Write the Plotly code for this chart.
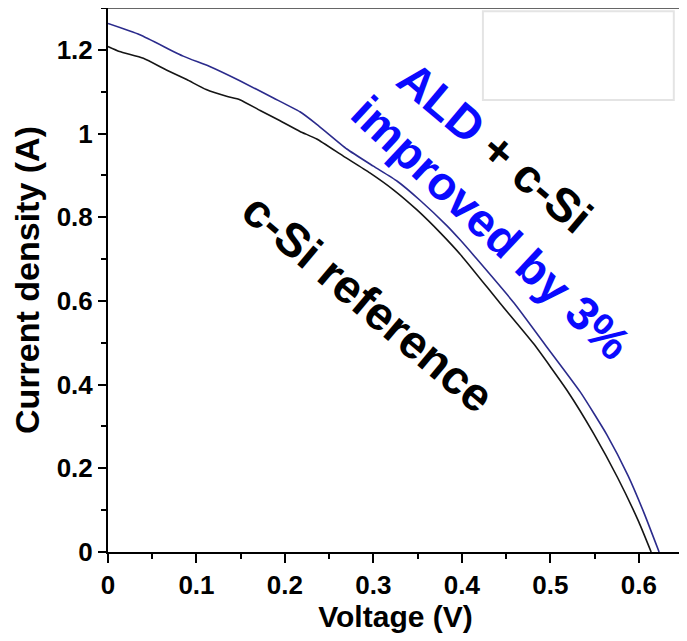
import plotly.graph_objects as go

# c-Si reference (black)
ref_v = [0, 0.013, 0.040, 0.066, 0.089, 0.111, 0.134, 0.149, 0.172, 0.194, 0.217, 0.236,
         0.266, 0.296, 0.323, 0.349, 0.376, 0.400, 0.443, 0.481, 0.519, 0.549, 0.576, 0.600, 0.614]
ref_j = [1.208, 1.196, 1.180, 1.152, 1.129, 1.105, 1.089, 1.081, 1.055, 1.031, 1.005, 0.987,
         0.946, 0.906, 0.865, 0.818, 0.762, 0.707, 0.595, 0.498, 0.386, 0.283, 0.178, 0.072, 0.0]

# ALD + c-Si (blue)
ald_v = [0, 0.036, 0.085, 0.115, 0.149, 0.187, 0.217, 0.236, 0.270, 0.300, 0.327, 0.353,
         0.383, 0.398, 0.417, 0.459, 0.496, 0.534, 0.564, 0.588, 0.606, 0.623]
ald_j = [1.263, 1.236, 1.185, 1.160, 1.126, 1.085, 1.052, 1.022, 0.963, 0.922, 0.886, 0.840,
         0.780, 0.746, 0.700, 0.595, 0.490, 0.382, 0.280, 0.182, 0.093, 0.0]

FONT = "Liberation Sans, Arial, sans-serif"

fig = go.Figure()
fig.add_trace(go.Scatter(x=ref_v, y=ref_j, mode="lines", name="c-Si reference",
                         line=dict(color="#151515", width=1.6, shape="spline", smoothing=0.5)))
fig.add_trace(go.Scatter(x=ald_v, y=ald_j, mode="lines", name="ALD + c-Si",
                         line=dict(color="#2b2b8c", width=1.6, shape="spline", smoothing=0.5)))

# empty legend box in the corner
fig.add_shape(type="rect", xref="paper", yref="paper", x0=0.652, x1=0.984, y0=0.831, y1=0.994,
              line=dict(color="#e4e4e4", width=2), fillcolor="rgba(0,0,0,0)")
# top/right frame
fig.add_shape(type="line", xref="paper", yref="paper", x0=0, x1=1, y0=1, y1=1,
              line=dict(color="#333", width=1.5))
fig.add_shape(type="line", xref="paper", yref="paper", x0=1, x1=1, y0=0, y1=1,
              line=dict(color="#333", width=1.5))

ann_font = dict(family=FONT, size=47, weight="bold")
fig.add_annotation(x=0.438, y=0.967, text="<span style='color:#0a0aff'>ALD</span> + c-Si",
                   showarrow=False, textangle=40, font=dict(ann_font, color="black"))
fig.add_annotation(x=0.433, y=0.775, text="improved by 3%",
                   showarrow=False, textangle=43, font=dict(ann_font, color="#0a0aff"))
fig.add_annotation(x=0.294, y=0.596, text="c-Si reference",
                   showarrow=False, textangle=40, font=dict(ann_font, color="black"))

# the page body adds an 8px offset, margins account for it
fig.update_layout(
    width=687, height=641,
    margin=dict(l=100, r=12, t=0, b=97),
    plot_bgcolor="white", paper_bgcolor="white",
    showlegend=False,
    font=dict(family=FONT, color="black"),
)
fig.update_xaxes(
    range=[0, 0.65], tickvals=[0, 0.1, 0.2, 0.3, 0.4, 0.5, 0.6],
    ticktext=["0", "0.1", "0.2", "0.3", "0.4", "0.5", "0.6"],
    ticks="outside", ticklen=9, tickwidth=2, tickcolor="black",
    minor=dict(dtick=0.05, ticks="outside", ticklen=5, tickwidth=2, tickcolor="black", showgrid=False),
    showline=True, linecolor="black", linewidth=2, showgrid=False, zeroline=False,
    automargin=False,
    tickfont=dict(family=FONT, size=26, weight="bold"),
    title=dict(text="Voltage (V)", font=dict(family=FONT, size=30, weight="bold"), standoff=6),
)
fig.update_yaxes(
    range=[0, 1.3], tickvals=[0, 0.2, 0.4, 0.6, 0.8, 1.0, 1.2],
    ticktext=["0", "0.2", "0.4", "0.6", "0.8", "1", "1.2"],
    ticks="outside", ticklen=8, tickwidth=2, tickcolor="black",
    minor=dict(dtick=0.1, ticks="outside", ticklen=5, tickwidth=2, tickcolor="black", showgrid=False),
    showline=True, linecolor="black", linewidth=2, showgrid=False, zeroline=False,
    automargin=False,
    tickfont=dict(family=FONT, size=26, weight="bold"),
    title=dict(text="Current density (A)", font=dict(family=FONT, size=34, weight="bold"), standoff=8),
)

fig.write_html("out.html")
